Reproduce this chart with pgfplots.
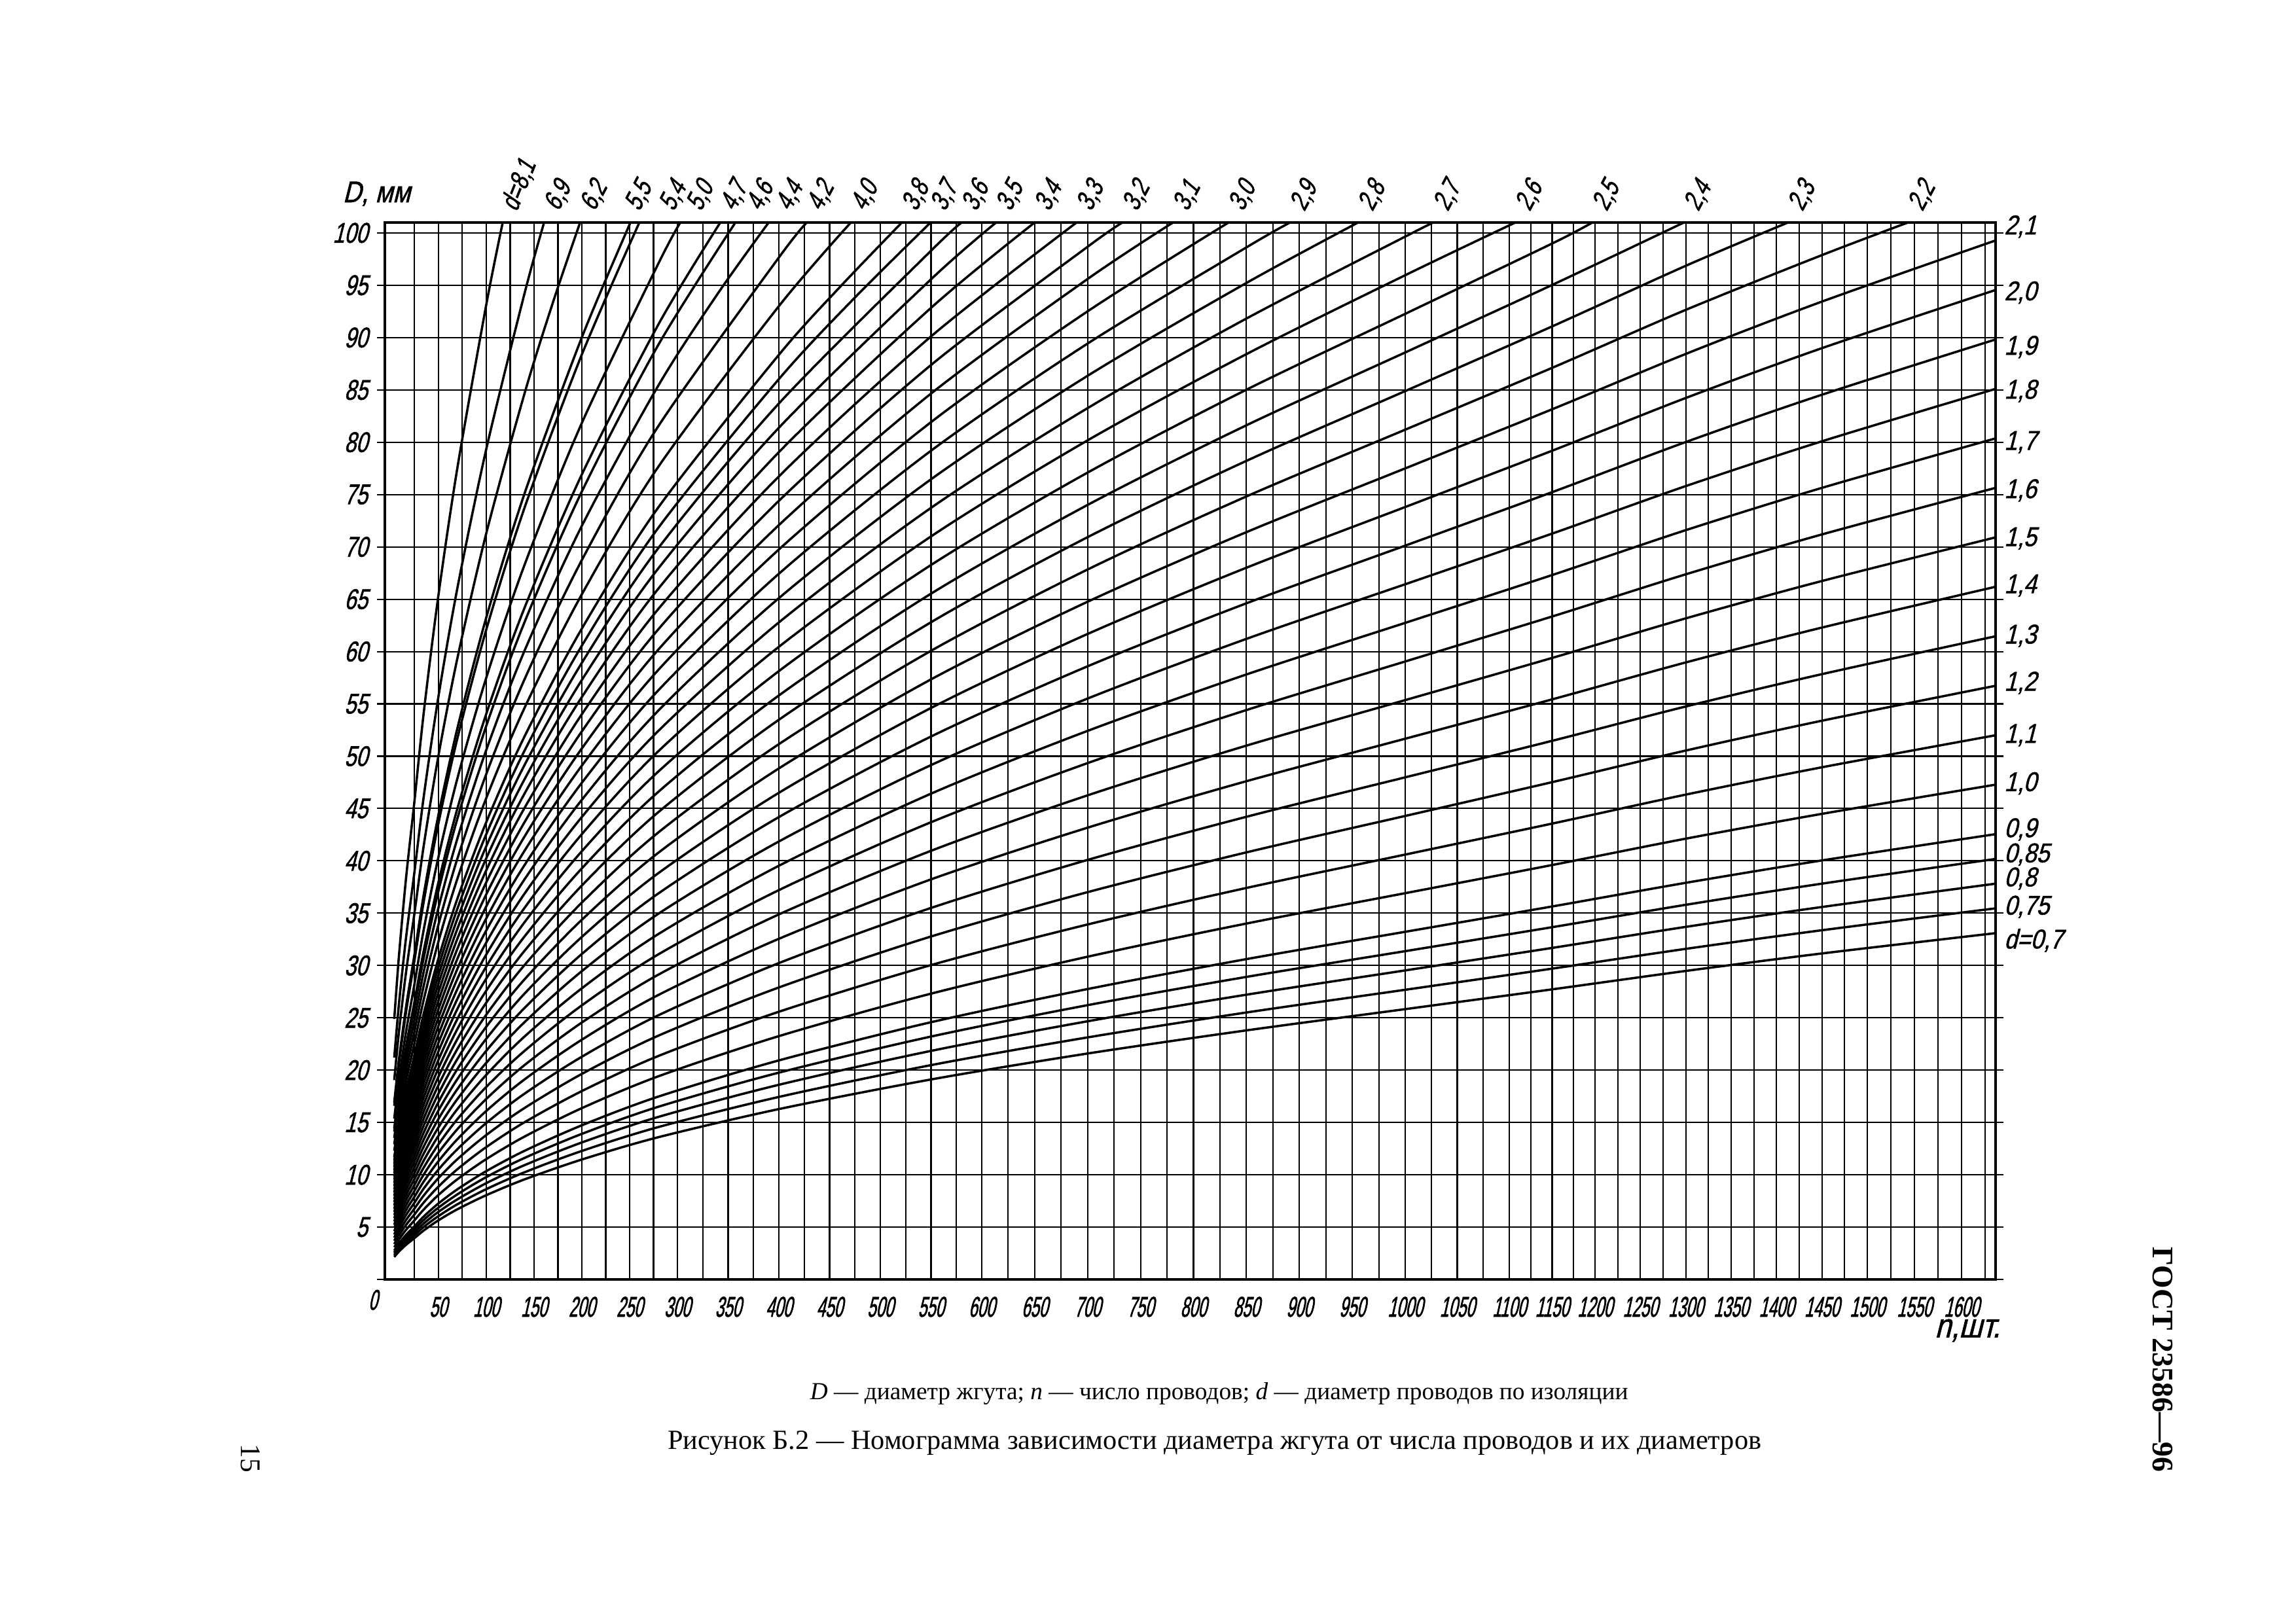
\documentclass[border=0pt]{standalone}
\usepackage{fontspec}
\setmainfont{Liberation Serif}
\newfontfamily\gostn[FakeSlant=0.22,FakeStretch=0.55,FakeBold=1.5]{Liberation Sans}
\newfontfamily\gostm[FakeSlant=0.22,FakeStretch=0.75,FakeBold=1.2]{Liberation Sans}
\newfontfamily\gosty[FakeSlant=0.25,FakeStretch=0.73,FakeBold=1.2]{Liberation Sans}
\newfontfamily\gostw[FakeSlant=0.25,FakeStretch=0.85,FakeBold=1.2]{Liberation Sans}
\usepackage{pgfplots}
\usepackage{pgfplotstable}
\pgfplotsset{compat=1.18}

% curves that end at the right edge (n = 1636)
\pgfplotstableread{
n d210 d200 d190 d180 d170 d160 d150 d140 d130 d120 d110 d100 d090 d085 d080 d075 d070
8 6.45 6.15 5.84 5.53 5.22 4.92 4.61 4.30 3.99 3.69 3.38 3.07 2.77 2.61 2.46 2.30 2.15
12 8.02 7.64 7.26 6.88 6.49 6.11 5.73 5.35 4.97 4.58 4.20 3.82 3.44 3.25 3.06 2.87 2.67
18 9.94 9.47 9.00 8.52 8.05 7.58 7.10 6.63 6.16 5.68 5.21 4.74 4.26 4.02 3.79 3.55 3.31
25 11.81 11.25 10.69 10.13 9.56 9.00 8.44 7.88 7.31 6.75 6.19 5.63 5.06 4.78 4.50 4.22 3.94
35 14.07 13.40 12.73 12.06 11.39 10.72 10.05 9.38 8.71 8.04 7.37 6.70 6.03 5.70 5.36 5.03 4.69
50 16.92 16.12 15.31 14.51 13.70 12.89 12.09 11.28 10.48 9.67 8.86 8.06 7.25 6.85 6.45 6.04 5.64
70 20.12 19.16 18.20 17.25 16.29 15.33 14.37 13.41 12.46 11.50 10.54 9.58 8.62 8.14 7.66 7.19 6.71
100 24.15 23.00 21.85 20.70 19.55 18.40 17.25 16.10 14.95 13.80 12.65 11.50 10.35 9.78 9.20 8.63 8.05
140 28.67 27.31 25.94 24.58 23.21 21.84 20.48 19.11 17.75 16.38 15.02 13.65 12.29 11.61 10.92 10.24 9.56
200 34.37 32.73 31.10 29.46 27.82 26.19 24.55 22.91 21.28 19.64 18.00 16.37 14.73 13.91 13.09 12.28 11.46
280 40.77 38.82 36.88 34.94 33.00 31.06 29.12 27.18 25.24 23.29 21.35 19.41 17.47 16.50 15.53 14.56 13.59
400 48.83 46.50 44.18 41.85 39.53 37.20 34.88 32.55 30.23 27.90 25.58 23.25 20.93 19.76 18.60 17.44 16.28
550 57.34 54.61 51.88 49.15 46.42 43.69 40.96 38.23 35.50 32.77 30.04 27.31 24.58 23.21 21.84 20.48 19.11
700 64.76 61.68 58.59 55.51 52.42 49.34 46.26 43.17 40.09 37.01 33.92 30.84 27.75 26.21 24.67 23.13 21.59
850 71.41 68.01 64.61 61.21 57.81 54.41 51.01 47.61 44.21 40.81 37.41 34.01 30.61 28.91 27.21 25.51 23.80
1000 77.50 73.81 70.12 66.43 62.74 59.05 55.36 51.67 47.98 44.29 40.60 36.91 33.22 31.37 29.53 27.68 25.83
1150 83.15 79.19 75.23 71.27 67.31 63.35 59.39 55.43 51.47 47.52 43.56 39.60 35.64 33.66 31.68 29.70 27.72
1300 88.44 84.23 80.02 75.81 71.60 67.38 63.17 58.96 54.75 50.54 46.33 42.12 37.90 35.80 33.69 31.59 29.48
1450 93.44 88.99 84.54 80.09 75.64 71.19 66.74 62.29 57.84 53.39 48.94 44.49 40.04 37.82 35.59 33.37 31.15
1636 99.28 94.55 89.82 85.10 80.37 75.64 70.91 66.19 61.46 56.73 52.00 47.28 42.55 40.18 37.82 35.46 33.09
}\rightcurves

\begin{document}
\begin{tikzpicture}[x=1cm,y=1cm,
  curve/.style={black, line width=0.85pt, smooth, mark=none},
  tl/.style={xshift=6.5pt, yshift=3pt, rotate=62, anchor=south west, font=\gostm\fontsize{10}{11}\selectfont, inner sep=0pt},
  rl/.style={xshift=2pt, anchor=west, font=\gostw\fontsize{10}{11}\selectfont, inner sep=1pt}]
\fill[white] (0,0) rectangle (29.7,20.988);
\path[use as bounding box] (0,0) rectangle (29.7,20.988);
\begin{axis}[
  at={(4.978cm,4.436cm)}, anchor=south west,
  scale only axis, width=20.836cm, height=13.674cm,
  % the hand-drawn grid of the original is not evenly spaced: piecewise-linear n scale
  x coord trafo/.code={\pgfmathparse{#1<25 ? #1*1.2 : (#1<100 ? 29.99+(#1-25)*0.9773 : (#1<300 ? 103.29+(#1-100)*0.97295 : (#1<600 ? 297.88+(#1-300)*1.0329 : (#1<1000 ? 607.76+(#1-600)*1.0779 : (#1<1100 ? 1038.92+(#1-1000)*1.0596 : (#1<1200 ? 1144.88+(#1-1100)*0.8729 : (#1<1500 ? 1232.17+(#1-1200)*0.9241 : 1509.40+(#1-1500)*0.9603)))))))}},
  xmin=0, xmax=1636, ymin=0, ymax=101,
  clip mode=individual,
  axis line style={line width=1pt},
  xtick={0,25,...,1625},
  xticklabels={{},{},50,{},100,{},150,{},200,{},250,{},300,{},350,{},400,{},450,{},500,{},550,{},600,{},650,{},700,{},750,{},800,{},850,{},900,{},950,{},1000,{},1050,{},1100,{},1150,{},1200,{},1250,{},1300,{},1350,{},1400,{},1450,{},1500,{},1550,{},1600,{}},
  ytick={0,5,...,100},
  yticklabels={{},5,10,15,20,25,30,35,40,45,50,55,60,65,70,75,80,85,90,95,100},
  grid=major,
  major grid style={black,line width=0.5pt},
  tick align=outside,
  major tick length=0.1cm,
  xtick style={draw=none},
  ytick style={black,line width=0.5pt},
  xticklabel style={font=\gostn\fontsize{10.5}{12}\selectfont},
  yticklabel style={font=\gosty\fontsize{10.5}{12}\selectfont},
]
% curves ending at the top edge (d = 8.1 ... 2.2)
\addplot[curve] coordinates {(8,24.89)(12,30.94)(18,38.35)(25,45.56)(35,54.28)(50,65.28)(70,77.61)(100,93.15)(117.2,101)};
\addplot[curve] coordinates {(8,21.20)(12,26.36)(18,32.67)(25,38.81)(35,46.24)(50,55.61)(70,66.11)(100,79.35)(140,94.21)(160.5,101)};
\addplot[curve] coordinates {(8,19.05)(12,23.68)(18,29.36)(25,34.88)(35,41.55)(50,49.97)(70,59.40)(100,71.30)(140,84.65)(170,93.43)(198.2,101)};
\addplot[curve] coordinates {(8,16.90)(12,21.01)(18,26.04)(25,30.94)(35,36.86)(50,44.32)(70,52.70)(100,63.25)(140,75.09)(200,90.02)(250.9,101)};
\addplot[curve] coordinates {(8,16.59)(12,20.63)(18,25.57)(25,30.38)(35,36.19)(50,43.52)(70,51.74)(100,62.10)(140,73.73)(200,88.38)(260.2,101)};
\addplot[curve] coordinates {(8,15.37)(12,19.10)(18,23.68)(25,28.13)(35,33.51)(50,40.30)(70,47.91)(100,57.50)(140,68.27)(200,81.84)(280,97.06)(302.9,101)};
\addplot[curve] coordinates {(8,14.44)(12,17.95)(18,22.25)(25,26.44)(35,31.49)(50,37.88)(70,45.03)(100,54.05)(140,64.17)(200,76.92)(280,91.24)(342.3,101)};
\addplot[curve] coordinates {(8,14.14)(12,17.57)(18,21.78)(25,25.88)(35,30.82)(50,37.07)(70,44.07)(100,52.90)(140,62.80)(200,75.29)(280,89.30)(357.2,101)};
\addplot[curve] coordinates {(8,13.52)(12,16.81)(18,20.83)(25,24.75)(35,29.48)(50,35.46)(70,42.16)(100,50.60)(140,60.07)(200,72.01)(280,85.41)(340,94.23)(390.0,101)};
\addplot[curve] coordinates {(8,12.91)(12,16.04)(18,19.89)(25,23.63)(35,28.14)(50,33.85)(70,40.24)(100,48.30)(140,57.34)(200,68.74)(280,81.53)(400,97.65)(427.6,101)};
\addplot[curve] coordinates {(8,12.29)(12,15.28)(18,18.94)(25,22.50)(35,26.80)(50,32.24)(70,38.32)(100,46.00)(140,54.61)(200,65.47)(280,77.65)(400,93.00)(471.0,101)};
\addplot[curve] coordinates {(8,11.68)(12,14.52)(18,17.99)(25,21.38)(35,25.46)(50,30.62)(70,36.41)(100,43.70)(140,51.88)(200,62.19)(280,73.77)(400,88.35)(460,94.81)(521.3,101)};
\addplot[curve] coordinates {(8,11.37)(12,14.13)(18,17.52)(25,20.81)(35,24.79)(50,29.82)(70,35.45)(100,42.55)(140,50.52)(200,60.56)(280,71.82)(400,86.03)(475,93.83)(549.6,101)};
\addplot[curve] coordinates {(8,11.06)(12,13.75)(18,17.05)(25,20.25)(35,24.12)(50,29.01)(70,34.49)(100,41.40)(140,49.15)(200,58.92)(280,69.88)(400,83.70)(550,98.30)(580.3,101)};
\addplot[curve] coordinates {(8,10.76)(12,13.37)(18,16.57)(25,19.69)(35,23.45)(50,28.21)(70,33.53)(100,40.25)(140,47.79)(200,57.28)(280,67.94)(400,81.38)(550,95.57)(613.6,101)};
\addplot[curve] coordinates {(8,10.45)(12,12.99)(18,16.10)(25,19.13)(35,22.78)(50,27.40)(70,32.58)(100,39.10)(140,46.42)(200,55.65)(280,66.00)(400,79.05)(550,92.84)(650.0,101)};
\addplot[curve] coordinates {(8,10.14)(12,12.61)(18,15.63)(25,18.56)(35,22.11)(50,26.59)(70,31.62)(100,37.95)(140,45.05)(200,54.01)(280,64.06)(400,76.73)(550,90.11)(689.6,101)};
\addplot[curve] coordinates {(8,9.83)(12,12.22)(18,15.15)(25,18.00)(35,21.44)(50,25.79)(70,30.66)(100,36.80)(140,43.69)(200,52.37)(280,62.12)(400,74.40)(550,87.38)(700,98.68)(733.0,101)};
\addplot[curve] coordinates {(8,9.53)(12,11.84)(18,14.68)(25,17.44)(35,20.77)(50,24.98)(70,29.70)(100,35.65)(140,42.32)(200,50.74)(280,60.18)(400,72.08)(550,84.65)(700,95.60)(780.7,101)};
\addplot[curve] coordinates {(8,9.22)(12,11.46)(18,14.21)(25,16.88)(35,20.10)(50,24.18)(70,28.74)(100,34.50)(140,40.96)(200,49.10)(280,58.24)(400,69.75)(550,81.92)(700,92.51)(833.2,101)};
\addplot[curve] coordinates {(8,8.91)(12,11.08)(18,13.73)(25,16.31)(35,19.43)(50,23.37)(70,27.78)(100,33.35)(140,39.59)(200,47.46)(280,56.29)(400,67.43)(550,79.19)(700,89.43)(850,98.62)(891.2,101)};
\addplot[curve] coordinates {(8,8.60)(12,10.70)(18,13.26)(25,15.75)(35,18.76)(50,22.57)(70,26.83)(100,32.20)(140,38.23)(200,45.83)(280,54.35)(400,65.10)(550,76.46)(700,86.35)(850,95.22)(955.5,101)};
\addplot[curve] coordinates {(8,8.30)(12,10.31)(18,12.78)(25,15.19)(35,18.09)(50,21.76)(70,25.87)(100,31.05)(140,36.86)(200,44.19)(280,52.41)(400,62.78)(550,73.73)(700,83.26)(850,91.82)(1000,99.65)(1027.1,101)};
\addplot[curve] coordinates {(8,7.99)(12,9.93)(18,12.31)(25,14.63)(35,17.42)(50,20.95)(70,24.91)(100,29.90)(140,35.50)(200,42.55)(280,50.47)(400,60.45)(550,71.00)(700,80.18)(850,88.42)(1000,95.96)(1107.1,101)};
\addplot[curve] coordinates {(8,7.68)(12,9.55)(18,11.84)(25,14.06)(35,16.75)(50,20.15)(70,23.95)(100,28.75)(140,34.13)(200,40.92)(280,48.53)(400,58.13)(550,68.27)(700,77.10)(850,85.02)(1000,92.27)(1150,98.99)(1196.9,101)};
\addplot[curve] coordinates {(8,7.38)(12,9.17)(18,11.36)(25,13.50)(35,16.08)(50,19.34)(70,22.99)(100,27.60)(140,32.77)(200,39.28)(280,46.59)(400,55.80)(550,65.53)(700,74.01)(850,81.62)(1000,88.58)(1150,95.03)(1298.0,101)};
\addplot[curve] coordinates {(8,7.07)(12,8.79)(18,10.89)(25,12.94)(35,15.41)(50,18.54)(70,22.04)(100,26.45)(140,31.40)(200,37.64)(280,44.65)(400,53.48)(550,62.80)(700,70.93)(850,78.22)(1000,84.89)(1150,91.07)(1300,96.86)(1412.7,101)};
\addplot[curve] coordinates {(8,6.76)(12,8.40)(18,10.42)(25,12.38)(35,14.74)(50,17.73)(70,21.08)(100,25.30)(140,30.04)(200,36.01)(280,42.71)(400,51.15)(550,60.07)(700,67.84)(850,74.82)(1000,81.20)(1150,87.11)(1300,92.65)(1450,97.88)(1543.2,101)};
% curves ending at the right edge (d = 2.1 ... 0.7)
\pgfplotsinvokeforeach{d210,d200,d190,d180,d170,d160,d150,d140,d130,d120,d110,d100,d090,d085,d080,d075,d070}{
  \addplot[curve] table[x=n,y=#1]{\rightcurves};
}
% labels along the top
\node[tl,rotate=6] at (axis cs:117.2,101) {d=8,1};
\node[tl] at (axis cs:160.5,101) {6,9};
\node[tl] at (axis cs:198.2,101) {6,2};
\node[tl] at (axis cs:245,101) {5,5};
\node[tl] at (axis cs:281,101) {5,4};
\node[tl] at (axis cs:309,101) {5,0};
\node[tl] at (axis cs:342.3,101) {4,7};
\node[tl] at (axis cs:368,101) {4,6};
\node[tl] at (axis cs:397,101) {4,4};
\node[tl] at (axis cs:427.6,101) {4,2};
\node[tl] at (axis cs:471.0,101) {4,0};
\node[tl] at (axis cs:521.3,101) {3,8};
\node[tl] at (axis cs:549.6,101) {3,7};
\node[tl] at (axis cs:580.3,101) {3,6};
\node[tl] at (axis cs:613.6,101) {3,5};
\node[tl] at (axis cs:650.0,101) {3,4};
\node[tl] at (axis cs:689.6,101) {3,3};
\node[tl] at (axis cs:733.0,101) {3,2};
\node[tl] at (axis cs:780.7,101) {3,1};
\node[tl] at (axis cs:833.2,101) {3,0};
\node[tl] at (axis cs:891.2,101) {2,9};
\node[tl] at (axis cs:955.5,101) {2,8};
\node[tl] at (axis cs:1027.1,101) {2,7};
\node[tl] at (axis cs:1107.1,101) {2,6};
\node[tl] at (axis cs:1196.9,101) {2,5};
\node[tl] at (axis cs:1298.0,101) {2,4};
\node[tl] at (axis cs:1412.7,101) {2,3};
\node[tl] at (axis cs:1543.2,101) {2,2};
% labels on the right
\node[rl] at (axis cs:1636,100.6) {2,1};
\node[rl] at (axis cs:1636,94.3) {2,0};
\node[rl] at (axis cs:1636,89.1) {1,9};
\node[rl] at (axis cs:1636,84.9) {1,8};
\node[rl] at (axis cs:1636,80.0) {1,7};
\node[rl] at (axis cs:1636,75.4) {1,6};
\node[rl] at (axis cs:1636,70.8) {1,5};
\node[rl] at (axis cs:1636,66.3) {1,4};
\node[rl] at (axis cs:1636,61.5) {1,3};
\node[rl] at (axis cs:1636,57.0) {1,2};
\node[rl] at (axis cs:1636,52.0) {1,1};
\node[rl] at (axis cs:1636,47.4) {1,0};
\node[rl] at (axis cs:1636,43.0) {0,9};
\node[rl] at (axis cs:1636,40.6) {0,85};
\node[rl] at (axis cs:1636,38.3) {0,8};
\node[rl] at (axis cs:1636,35.6) {0,75};
\node[rl] at (axis cs:1636,32.4) {d=0,7};
% zero at the corner
\node[xshift=-0.09cm, yshift=-0.127cm, anchor=north east, inner sep=0pt, font=\gostn\fontsize{10.5}{12}\selectfont] at (axis cs:0,0) {0};
\end{axis}
\node[font=\gostw\fontsize{11}{12}\selectfont] at (4.87,18.48) {D, мм};
\node[font=\gostw\fontsize{12.5}{14}\selectfont] at (25.45,3.776) {n,шт.};
\node[font=\fontsize{9}{11}\selectfont] at (15.77,2.955) {\textit{D} — диаметр жгута; \textit{n} — число проводов; \textit{d} — диаметр проводов по изоляции};
\node[font=\fontsize{10.2}{12}\selectfont] at (15.71,2.32) {Рисунок Б.2 — Номограмма зависимости диаметра жгута от числа проводов и их диаметров};
\node[font=\bfseries\fontsize{11}{13}\selectfont, rotate=-90] at (27.98,3.40) {ГОСТ 23586—96};
\node[font=\fontsize{10.5}{12}\selectfont, rotate=-90] at (3.243,2.125) {15};
\end{tikzpicture}
\end{document}
